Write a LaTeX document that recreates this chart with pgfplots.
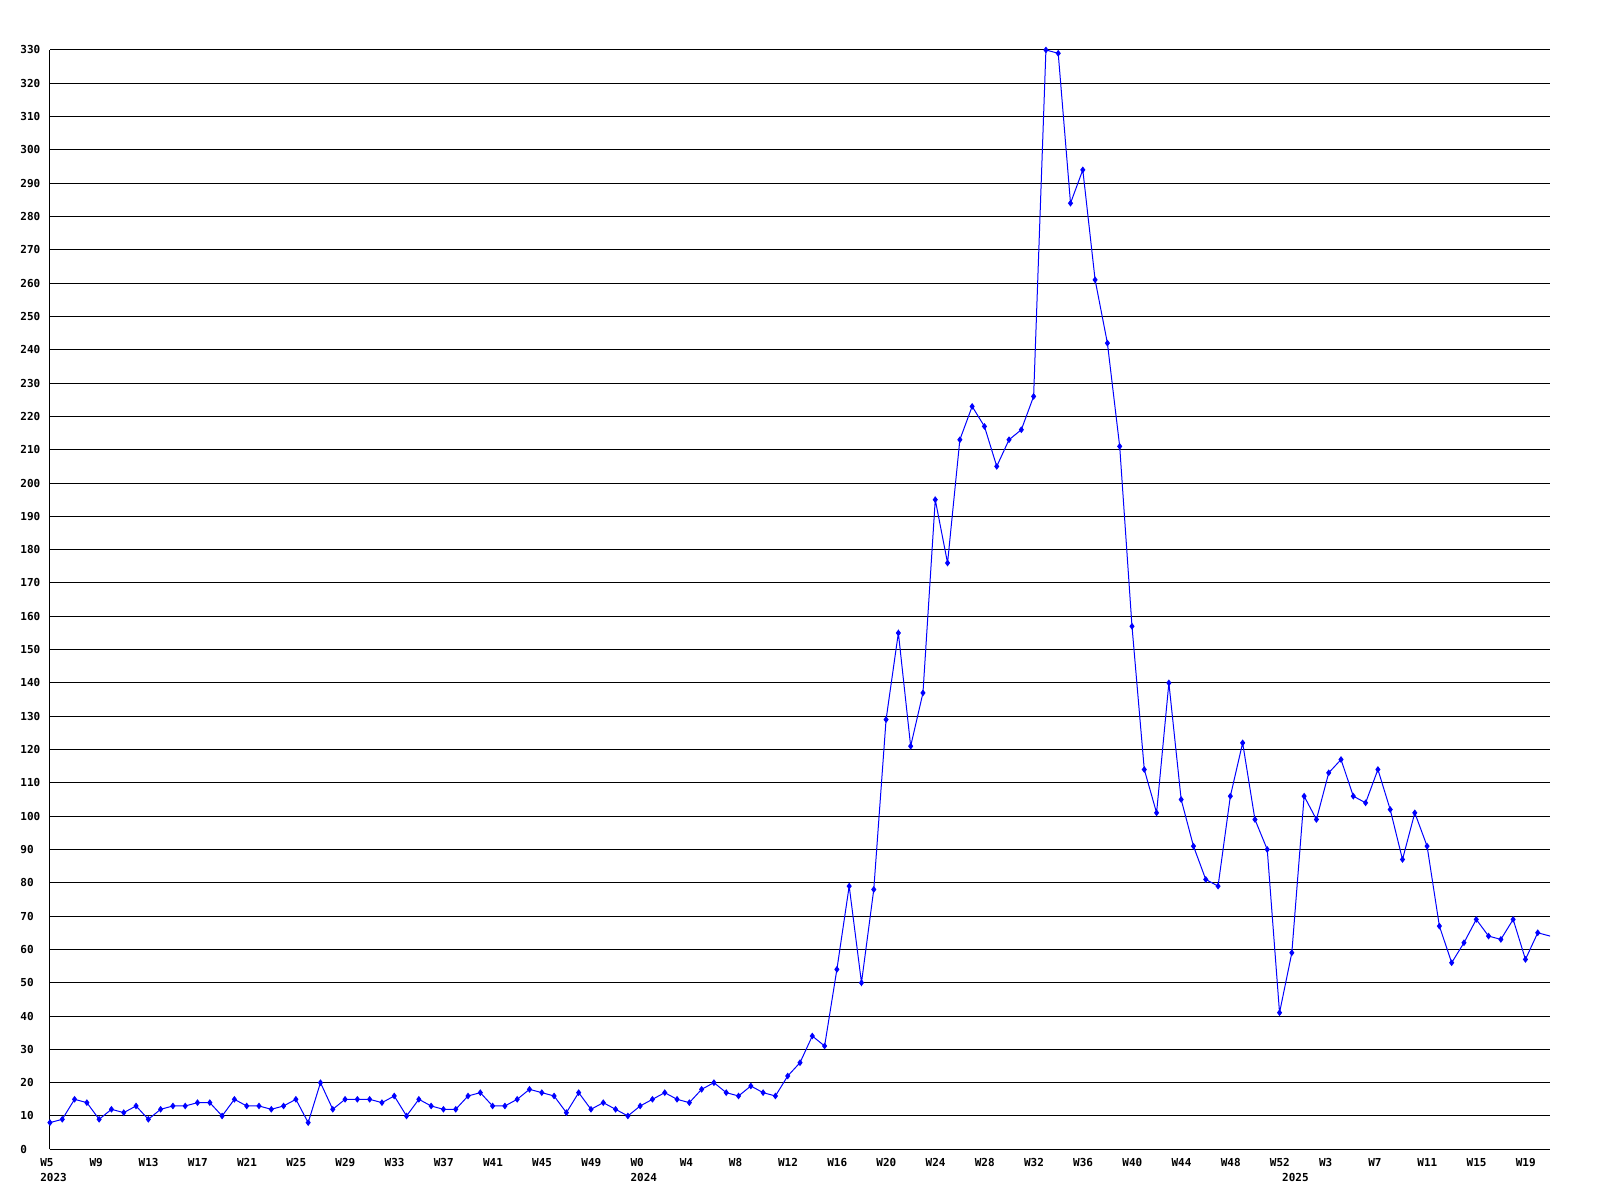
\documentclass[border=0pt]{standalone}
\usepackage{pgfplots}
\pgfplotsset{compat=1.18}
\usepackage{pgfplotstable}
\usepackage{fontspec}
\newfontfamily\labelfont{DejaVu Sans Mono}[BoldFont={DejaVu Sans Mono Bold}]
\definecolor{lineblue}{RGB}{0,0,255}

% weekly counts, index 0 = W5 2023
\pgfplotstableread{
i v
0 8
1 9
2 15
3 14
4 9
5 12
6 11
7 13
8 9
9 12
10 13
11 13
12 14
13 14
14 10
15 15
16 13
17 13
18 12
19 13
20 15
21 8
22 20
23 12
24 15
25 15
26 15
27 14
28 16
29 10
30 15
31 13
32 12
33 12
34 16
35 17
36 13
37 13
38 15
39 18
40 17
41 16
42 11
43 17
44 12
45 14
46 12
47 10
48 13
49 15
50 17
51 15
52 14
53 18
54 20
55 17
56 16
57 19
58 17
59 16
60 22
61 26
62 34
63 31
64 54
65 79
66 50
67 78
68 129
69 155
70 121
71 137
72 195
73 176
74 213
75 223
76 217
77 205
78 213
79 216
80 226
81 330
82 329
83 284
84 294
85 261
86 242
87 211
88 157
89 114
90 101
91 140
92 105
93 91
94 81
95 79
96 106
97 122
98 99
99 90
100 41
101 59
102 106
103 99
104 113
105 117
106 106
107 104
108 114
109 102
110 87
111 101
112 91
113 67
114 56
115 62
116 69
117 64
118 63
119 69
120 57
121 65
}\weekly

\pgfplotstableread{
i v
121 65
122 64
}\lastseg

\begin{document}
\begin{tikzpicture}
\begin{axis}[
    at={(0,0)}, anchor=south west,
    scale only axis,
    width=750.5pt, height=550pt,
    xmin=0, xmax=122,
    ymin=0, ymax=330,
    clip=false,
    axis lines=left,
    axis line style={-, black, line width=0.5pt},
    ymajorgrids,
    major grid style={black, line width=0.5pt},
    major tick length=0pt,
    ytick={0,10,...,330},
    xtick={0,4,...,120},
    xticklabels={W5\\2023,W9,W13,W17,W21,W25,W29,W33,W37,W41,W45,W49,
                 W0\\2024,W4,W8,W12,W16,W20,W24,W28,W32,W36,W40,W44,W48,W52,
                 W3,W7,W11,W15,W19},
    extra x ticks={101},
    extra x tick labels={\phantom{W0}\\2025},
    /pgf/number format/assume math mode=true,
    tick label style={font=\labelfont\bfseries\fontsize{5.5}{7.5}\selectfont, inner sep=0pt},
    xticklabel style={anchor=north west, xshift=-5pt, yshift=-4.5pt, align=left},
    yticklabel style={anchor=west, xshift=-15pt},
]
\addplot [lineblue, line width=0.5pt, mark=diamond*, mark size=1.3pt,
    mark options={fill=lineblue, draw=lineblue}] table [x=i, y=v] {\weekly};
\addplot [lineblue, line width=0.5pt] table [x=i, y=v] {\lastseg};
\end{axis}
\pgfresetboundingbox
\useasboundingbox (-25pt,-25pt) rectangle (775.5pt,575pt);
\end{tikzpicture}
\end{document}
